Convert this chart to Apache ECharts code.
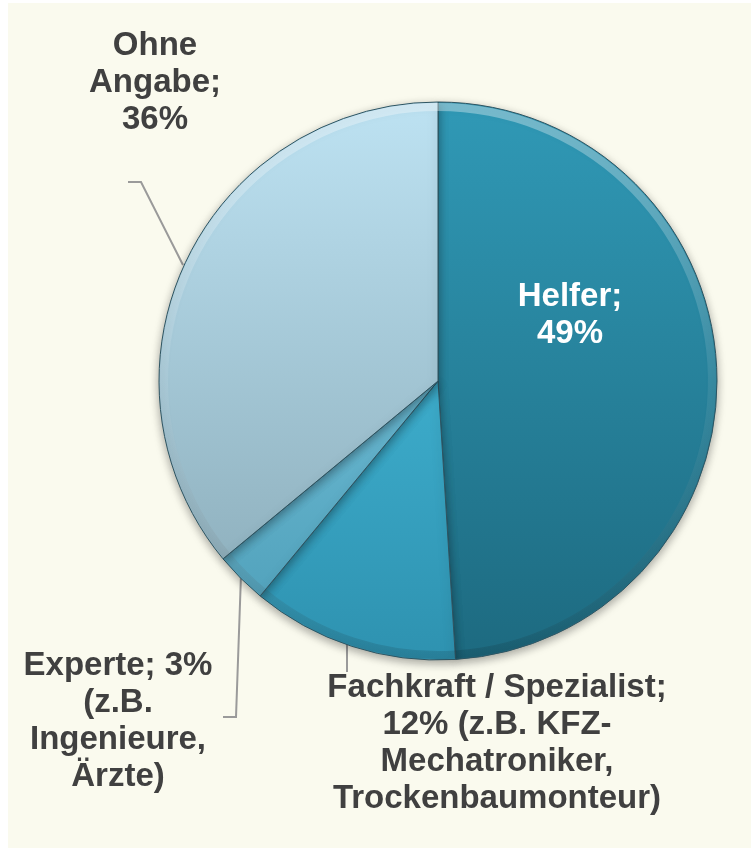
<!DOCTYPE html>
<html>
<head>
<meta charset="utf-8">
<script src="https://cdn.jsdelivr.net/npm/echarts@6/dist/echarts.min.js"></script>
<style>
html,body{margin:0;padding:0;background:#ffffff;}
#chart{position:absolute;left:8px;top:3px;width:743px;height:845px;background:#FAFAEE;}
</style>
</head>
<body>
<div id="chart"></div>
<script>
// Data
const categories = ['Helfer', 'Fachkraft / Spezialist', 'Experte', 'Ohne Angabe'];
const values = [49, 12, 3, 36];
const labelTemplates = [
  'Helfer;\n{p}%',
  'Fachkraft / Spezialist;\n{p}% (z.B. KFZ-\nMechatroniker,\nTrockenbaumonteur)',
  'Experte; {p}%\n(z.B.\nIngenieure,\nÄrzte)',
  'Ohne\nAngabe;\n{p}%'
];

// Styles (not data)
const OX = 8, OY = 3;
const CX = 438 - OX, CY = 381 - OY, R = 279;
const topY = CY - R, botY = CY + R;
function grad(c1, c2) {
  return { type: 'linear', x: 0, y: topY, x2: 0, y2: botY, global: true,
    colorStops: [{ offset: 0, color: c1 }, { offset: 1, color: c2 }] };
}
const fills = [
  grad('#3099B6', '#1D6A80'),
  grad('#4CC6E6', '#2E92B0'),
  grad('#86D2EA', '#4C9DB7'),
  grad('#BDE2F2', '#87A8B5')
];
const labelColors = ['#ffffff', '#404040', '#404040', '#404040'];
const labelPos = [
  { x: 570, y: 315, line: null },
  { x: 497, y: 743, line: [[347, 640], [347, 656], [347, 672]] },
  { x: 118, y: 721, line: [[241, 575], [236, 717], [223, 717]] },
  { x: 155, y: 83, line: [[183, 265], [141, 182], [128, 182]] }
];

const chart = echarts.init(document.getElementById('chart'));
const seriesData = categories.map((name, i) => ({
  name: name,
  value: values[i],
  itemStyle: { color: fills[i] },
  label: { color: labelColors[i] },
  labelLine: { show: i !== 0 }
}));
const rimData = categories.map((name, i) => ({ name: name, value: values[i] }));

chart.setOption({
  animation: false,
  series: [{
    type: 'pie',
    center: [CX, CY],
    radius: [0, R],
    startAngle: 90,
    clockwise: true,
    avoidLabelOverlap: false,
    data: seriesData,
    itemStyle: {
      borderColor: '#2E5461',
      borderWidth: 1,
      shadowBlur: 10,
      shadowOffsetY: 3,
      shadowColor: 'rgba(0,0,0,0.35)'
    },
    label: {
      show: true,
      position: 'outside',
      formatter: function (p) { return labelTemplates[p.dataIndex].replace('{p}', p.value); },
      fontFamily: '"Liberation Sans", Arial, sans-serif',
      fontWeight: 'bold',
      fontSize: 33,
      lineHeight: 37,
      align: 'center',
      verticalAlign: 'middle'
    },
    labelLine: {
      show: true,
      lineStyle: { color: '#9A9A9A', width: 2 }
    },
    labelLayout: function (params) {
      const lp = labelPos[params.dataIndex];
      const out = { x: lp.x - OX, y: lp.y - OY, align: 'center', verticalAlign: 'middle' };
      if (lp.line) out.labelLinePoints = lp.line.map(pt => [pt[0] - OX, pt[1] - OY]);
      return out;
    },
    emphasis: { disabled: true }
  }, {
    type: 'pie',
    silent: true,
    center: [CX, CY],
    radius: [R - 9, R - 1],
    startAngle: 90,
    clockwise: true,
    data: rimData,
    label: { show: false },
    labelLine: { show: false },
    itemStyle: {
      borderWidth: 0,
      color: { type: 'linear', x: 0, y: topY, x2: 0, y2: botY, global: true,
        colorStops: [
          { offset: 0, color: 'rgba(255,255,255,0.35)' },
          { offset: 0.5, color: 'rgba(255,255,255,0.08)' },
          { offset: 1, color: 'rgba(0,0,0,0.12)' }
        ] }
    },
    emphasis: { disabled: true }
  }]
});
</script>
</body>
</html>
